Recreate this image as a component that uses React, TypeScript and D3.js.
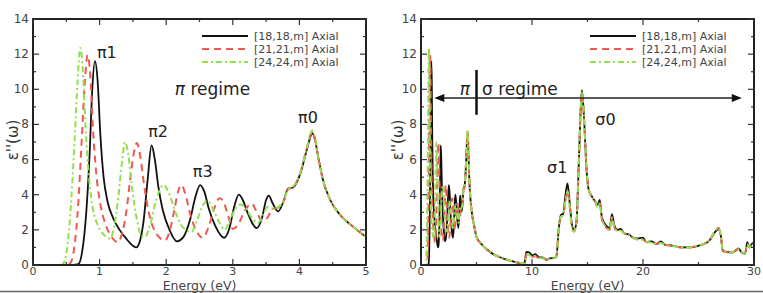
import React, { useEffect, useRef } from "react";
import * as d3 from "d3";

type Pt = [number, number];

// --- Data (energy in eV, epsilon'' values)
const seriesNames = ["[18,18,m] Axial", "[21,21,m] Axial", "[24,24,m] Axial"];

const lowBlack: Pt[] = [
  [0, 0], [0.6, 0], [0.68, 0.05], [0.74, 0.8], [0.8, 3], [0.85, 6.3], [0.89, 10], [0.93, 11.6],
  [0.97, 10.5], [1.01, 7.5], [1.06, 5], [1.12, 3.6], [1.2, 2.7], [1.3, 2.0], [1.4, 1.5], [1.5, 1.1],
  [1.55, 1.0], [1.6, 1.3], [1.66, 2.5], [1.72, 4.8], [1.78, 6.8], [1.83, 6.0], [1.88, 4.5], [1.95, 3.1],
  [2.05, 2.0], [2.16, 1.35], [2.26, 1.6], [2.36, 2.6], [2.44, 3.9], [2.51, 4.55], [2.57, 4.2], [2.64, 3.2],
  [2.74, 2.2], [2.87, 1.55], [2.95, 2.1], [3.02, 3.3], [3.09, 4.0], [3.15, 3.7], [3.22, 3.0], [3.36, 2.1],
  [3.44, 2.7], [3.5, 3.7], [3.54, 3.95], [3.6, 3.5], [3.68, 3.05], [3.76, 3.6], [3.83, 4.35], [3.9, 4.4],
  [3.96, 4.7], [4.03, 5.4], [4.1, 6.4], [4.15, 7.1], [4.19, 7.5], [4.23, 7.2], [4.28, 6.2], [4.35, 4.9],
  [4.45, 3.8], [4.6, 2.9], [4.8, 2.2], [5.0, 1.6],
];

const lowRed: Pt[] = [
  [0, 0], [0.5, 0], [0.56, 0.1], [0.62, 1], [0.68, 3.5], [0.73, 7], [0.78, 10.5], [0.82, 11.95],
  [0.86, 10.8], [0.9, 7.8], [0.95, 5.2], [1.02, 3.3], [1.1, 2.2], [1.2, 1.5], [1.27, 1.3], [1.33, 1.7],
  [1.4, 3.0], [1.47, 5.2], [1.52, 6.5], [1.56, 6.95], [1.61, 6.2], [1.67, 4.5], [1.75, 2.8], [1.85, 1.8],
  [1.98, 1.4], [2.05, 1.9], [2.12, 3.1], [2.18, 4.2], [2.23, 4.55], [2.29, 4.0], [2.36, 2.9], [2.46, 1.9],
  [2.55, 1.55], [2.63, 2.1], [2.72, 3.2], [2.8, 3.8], [2.86, 3.6], [2.93, 2.8], [3.0, 2.05], [3.08, 2.3],
  [3.18, 3.1], [3.28, 3.5], [3.35, 3.1], [3.44, 2.5], [3.52, 2.7], [3.6, 3.2], [3.7, 3.3], [3.76, 3.6],
  [3.83, 4.3], [3.9, 4.45], [3.96, 4.75], [4.03, 5.45], [4.1, 6.5], [4.15, 7.2], [4.19, 7.6], [4.23, 7.25],
  [4.28, 6.2], [4.35, 4.9], [4.45, 3.8], [4.6, 2.9], [4.8, 2.2], [5.0, 1.6],
];

const lowGreen: Pt[] = [
  [0, 0], [0.42, 0], [0.46, 0.1], [0.52, 1.2], [0.58, 4], [0.63, 7.5], [0.67, 10.5], [0.71, 12.35],
  [0.75, 11], [0.79, 7.8], [0.84, 5], [0.9, 3.2], [0.98, 2.2], [1.07, 1.7], [1.16, 1.5], [1.22, 2.2],
  [1.28, 3.8], [1.34, 6.0], [1.38, 7.0], [1.43, 6.3], [1.49, 4.3], [1.56, 2.6], [1.62, 1.7], [1.68, 1.6],
  [1.76, 2.3], [1.85, 3.7], [1.96, 4.55], [2.04, 4.1], [2.14, 3.0], [2.26, 2.1], [2.38, 1.9], [2.47, 2.6],
  [2.55, 3.4], [2.62, 3.65], [2.7, 3.2], [2.8, 2.4], [2.88, 2.0], [2.96, 2.6], [3.04, 3.2], [3.12, 3.45],
  [3.2, 3.2], [3.3, 2.6], [3.38, 2.4], [3.45, 2.8], [3.52, 3.3], [3.6, 3.2], [3.68, 3.3], [3.76, 3.6],
  [3.83, 4.3], [3.9, 4.45], [3.96, 4.75], [4.03, 5.45], [4.1, 6.5], [4.15, 7.2], [4.19, 7.65], [4.23, 7.3],
  [4.28, 6.2], [4.35, 4.9], [4.45, 3.8], [4.6, 2.9], [4.8, 2.2], [5.0, 1.6],
];

const highBlack: Pt[] = [
  [5.5, 1.15], [6, 0.85], [6.5, 0.62], [7, 0.47], [7.5, 0.35], [8, 0.25], [8.5, 0.17], [9, 0.1],
  [9.3, 0.06], [9.4, 0.4], [9.5, 0.75], [9.8, 0.7], [10, 0.55], [10.3, 0.62], [10.6, 0.45], [11, 0.42],
  [11.3, 0.3], [11.6, 0.38], [12, 0.4], [12.2, 0.5], [12.4, 2.0], [12.6, 2.85], [12.8, 2.9], [13.0, 3.9],
  [13.2, 4.65], [13.4, 3.5], [13.6, 2.3], [13.8, 2.0], [14.0, 2.4], [14.2, 5.5], [14.4, 9.0], [14.5, 9.95],
  [14.7, 8.2], [14.9, 5.6], [15.1, 4.3], [15.4, 3.9], [15.7, 3.6], [15.9, 3.4], [16.1, 3.7], [16.3, 2.7],
  [16.6, 2.3], [17.0, 2.1], [17.2, 2.9], [17.4, 2.3], [17.7, 2.0], [18.0, 2.05], [18.3, 1.8], [18.7, 1.75],
  [19.0, 1.6], [19.5, 1.5], [20.0, 1.55], [20.3, 1.3], [20.8, 1.35], [21.2, 1.2], [21.6, 1.35], [22, 1.15],
  [22.5, 1.12], [23, 1.05], [23.5, 1.0], [24, 1.0], [24.5, 1.02], [25, 1.1], [25.5, 1.2], [26, 1.4],
  [26.4, 1.8], [26.8, 2.05], [27.0, 1.7], [27.2, 0.8], [27.5, 0.75], [28, 0.7], [28.3, 0.8], [28.6, 0.95],
  [28.9, 0.7], [29.2, 0.65], [29.4, 1.3], [29.6, 1.0], [29.8, 1.2], [30, 1.3],
];

const highColor: Pt[] = [
  [5.5, 1.15], [6, 0.85], [6.5, 0.62], [7, 0.47], [7.5, 0.35], [8, 0.25], [8.5, 0.17], [9, 0.1],
  [9.3, 0.06], [9.4, 0.3], [9.5, 0.6], [9.8, 0.55], [10, 0.45], [10.3, 0.5], [10.6, 0.4], [11, 0.38],
  [11.3, 0.3], [11.6, 0.35], [12, 0.38], [12.2, 0.5], [12.4, 2.0], [12.6, 2.75], [12.8, 2.8], [13.0, 3.6],
  [13.2, 4.2], [13.4, 3.3], [13.6, 2.1], [13.8, 1.9], [14.0, 2.4], [14.2, 5.5], [14.4, 9.0], [14.5, 9.8],
  [14.7, 8.2], [14.9, 5.6], [15.1, 4.3], [15.4, 3.9], [15.7, 3.6], [15.9, 3.3], [16.1, 3.5], [16.3, 2.6],
  [16.6, 2.2], [17.0, 2.0], [17.2, 2.7], [17.4, 2.2], [17.7, 1.95], [18.0, 1.95], [18.3, 1.8], [18.7, 1.7],
  [19.0, 1.6], [19.5, 1.45], [20.0, 1.45], [20.3, 1.3], [20.8, 1.28], [21.2, 1.2], [21.6, 1.25], [22, 1.15],
  [22.5, 1.1], [23, 1.05], [23.5, 1.0], [24, 1.0], [24.5, 1.02], [25, 1.1], [25.5, 1.2], [26, 1.4],
  [26.4, 1.85], [26.8, 2.1], [27.0, 1.7], [27.2, 0.8], [27.5, 0.75], [28, 0.7], [28.3, 0.8], [28.6, 0.9],
  [28.9, 0.7], [29.2, 0.7], [29.4, 1.2], [29.6, 1.0], [29.8, 1.15], [30, 1.25],
];

const yTicks = [0, 2, 4, 6, 8, 10, 12, 14];
const xTicksLeft = [0, 1, 2, 3, 4, 5];
const xTicksRight = [0, 10, 20, 30];

const colors = ["#111", "#ee5a52", "#92e04c"];
const dashes = ["none", "7,5", "6,3,2,3"];

const W = 763;
const H = 293;
const TOP = 19;
const BOTTOM = 265;
const FONT = "'DejaVu Sans', sans-serif";

const App: React.FC = () => {
  const ref = useRef<SVGSVGElement | null>(null);

  useEffect(() => {
    if (!ref.current) return;
    const root = d3.select(ref.current);
    root.selectAll("*").remove();
    root.attr("width", W).attr("height", H);

    root.append("rect").attr("width", W).attr("height", H).attr("fill", "white");

    const y = d3.scaleLinear().domain([0, 14]).range([BOTTOM, TOP]);

    const panels = [
      {
        id: "l",
        x: d3.scaleLinear().domain([0, 5]).range([33, 366]),
        ticks: xTicksLeft,
        minorStep: 0.5,
        series: [lowBlack, lowRed, lowGreen],
        yLabelX: 18,
      },
      {
        id: "r",
        x: d3.scaleLinear().domain([0, 30]).range([421, 754]),
        ticks: xTicksRight,
        minorStep: 5,
        series: [
          lowBlack.concat(highBlack),
          lowRed.concat(highColor),
          lowGreen.concat(highColor),
        ],
        yLabelX: 403,
      },
    ];

    panels.forEach((p) => {
      const [x0, x1] = p.x.range();
      const g = root.append("g");

      g.append("clipPath")
        .attr("id", `clip-${p.id}`)
        .append("rect")
        .attr("x", x0)
        .attr("y", TOP)
        .attr("width", x1 - x0)
        .attr("height", BOTTOM - TOP);

      // curves
      const line = d3
        .line<Pt>()
        .x((d) => p.x(d[0]))
        .y((d) => y(d[1]))
        .curve(d3.curveMonotoneX);

      g.append("g")
        .attr("clip-path", `url(#clip-${p.id})`)
        .selectAll("path")
        .data(p.series)
        .join("path")
        .attr("d", (d) => line(d))
        .attr("fill", "none")
        .attr("stroke", (_, i) => colors[i])
        .attr("stroke-width", (_, i) => (i === 0 ? 1.8 : 2))
        .attr("stroke-dasharray", (_, i) => dashes[i]);

      // frame
      g.append("rect")
        .attr("x", x0)
        .attr("y", TOP)
        .attr("width", x1 - x0)
        .attr("height", BOTTOM - TOP)
        .attr("fill", "none")
        .attr("stroke", "#222")
        .attr("stroke-width", 2);

      // ticks (inward, mirrored on top/right)
      const xMax = p.x.domain()[1];
      const xMinor = d3.range(0, xMax + 1e-9, p.minorStep);
      const yMinor = d3.range(0, 14.001, 1);
      const tk = g.append("g").attr("stroke", "#333").attr("stroke-width", 1.2);
      xMinor.forEach((v) => {
        const len = p.ticks.includes(v) ? 6 : 3;
        const px = p.x(v);
        tk.append("line").attr("x1", px).attr("x2", px).attr("y1", BOTTOM).attr("y2", BOTTOM - len);
        tk.append("line").attr("x1", px).attr("x2", px).attr("y1", TOP).attr("y2", TOP + len);
      });
      yMinor.forEach((v) => {
        const len = yTicks.includes(v) ? 6 : 3;
        const py = y(v);
        tk.append("line").attr("x1", x0).attr("x2", x0 + len).attr("y1", py).attr("y2", py);
        tk.append("line").attr("x1", x1).attr("x2", x1 - len).attr("y1", py).attr("y2", py);
      });

      // tick labels
      g.selectAll(".xt")
        .data(p.ticks)
        .join("text")
        .attr("x", (d) => p.x(d))
        .attr("y", 275)
        .attr("text-anchor", "middle")
        .style("font-family", FONT)
        .style("font-size", "11px")
        .style("fill", "#444")
        .text((d) => d);

      g.selectAll(".yt")
        .data(yTicks)
        .join("text")
        .attr("x", x0 - 4)
        .attr("y", (d) => y(d) + 4)
        .attr("text-anchor", "end")
        .style("font-family", FONT)
        .style("font-size", "12px")
        .style("fill", "#444")
        .text((d) => d);

      // axis titles
      g.append("text")
        .attr("x", (x0 + x1) / 2)
        .attr("y", 289.5)
        .attr("text-anchor", "middle")
        .style("font-family", FONT)
        .style("font-size", "12.5px")
        .style("fill", "#444")
        .text("Energy (eV)");

      g.append("text")
        .attr("transform", `translate(${p.yLabelX},140) rotate(-90)`)
        .attr("text-anchor", "middle")
        .style("font-family", FONT)
        .style("font-size", "15px")
        .style("fill", "#333")
        .text("ε''(ω)");

      // legend
      const lg = g.append("g").attr("transform", `translate(${x0 + 169},0)`);
      seriesNames.forEach((name, i) => {
        const ly = 36 + i * 13;
        lg.append("line")
          .attr("x1", 0)
          .attr("x2", 46)
          .attr("y1", ly)
          .attr("y2", ly)
          .attr("stroke", colors[i])
          .attr("stroke-width", 2)
          .attr("stroke-dasharray", dashes[i]);
        lg.append("text")
          .attr("x", 52)
          .attr("y", ly + 4)
          .style("font-family", FONT)
          .style("font-size", "11px")
          .style("fill", "#444")
          .text(name);
      });
    });

    // --- annotations
    const L = panels[0].x;
    const R = panels[1].x;
    const label = (px: number, py: number, txt: string, size = 16) =>
      root
        .append("text")
        .attr("x", px)
        .attr("y", py)
        .style("font-family", FONT)
        .style("font-size", `${size}px`)
        .style("fill", "#222")
        .text(txt);

    label(L(0.96), y(11.8), "π1");
    label(L(1.73), y(7.3), "π2");
    label(L(2.4), y(5.0), "π3");
    label(L(3.98), y(8.1), "π0");
    const reg = label(L(2.13), y(9.67), "", 17);
    reg.append("tspan").style("font-style", "italic").text("π");
    reg.append("tspan").text(" regime");

    label(R(15.7), y(7.97), "σ0");
    label(R(11.35), y(5.24), "σ1");
    label(R(3.5), y(9.67), "π", 17).style("font-style", "italic");
    label(R(5.5), y(9.67), "σ regime", 17);

    // pi|sigma separator and double arrow
    root.append("line")
      .attr("x1", R(5.0)).attr("x2", R(5.0))
      .attr("y1", y(11.1)).attr("y2", y(8.55))
      .attr("stroke", "#111").attr("stroke-width", 2.5);

    const ay = y(9.5);
    const ax0 = R(1.2);
    const ax1 = R(28.9);
    root.append("line")
      .attr("x1", ax0 + 8).attr("x2", ax1 - 8)
      .attr("y1", ay).attr("y2", ay)
      .attr("stroke", "#222").attr("stroke-width", 1.5);
    root.append("path")
      .attr("d", `M${ax0},${ay} l10,-4 l0,8 Z M${ax1},${ay} l-10,-4 l0,8 Z`)
      .attr("fill", "#111");

    // bottom rule
    root.append("line")
      .attr("x1", 0).attr("x2", W)
      .attr("y1", 291.5).attr("y2", 291.5)
      .attr("stroke", "#666").attr("stroke-width", 1.5);
  }, []);

  return (
    <svg
      ref={ref}
      style={{ position: "absolute", left: 0, top: 0, display: "block" }}
    />
  );
};

export default App;
